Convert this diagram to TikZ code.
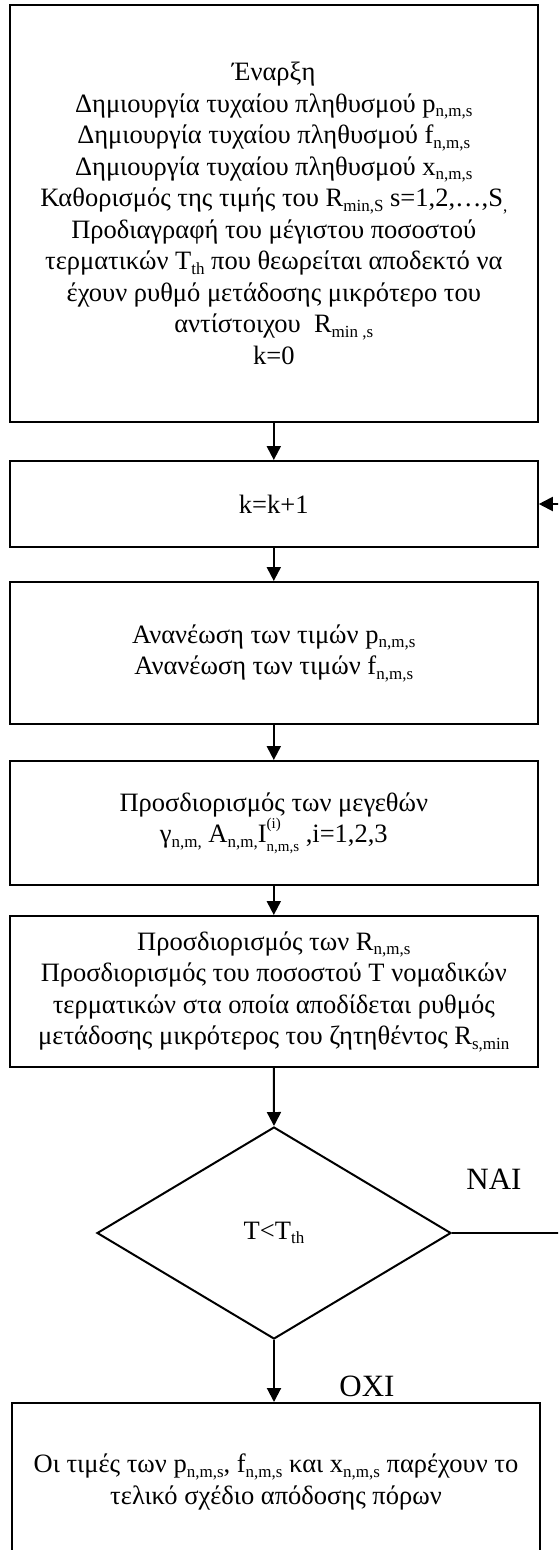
\documentclass[tikz,border=0pt]{standalone}
\usepackage{fontspec}
\setmainfont{Liberation Serif}
\usetikzlibrary{arrows.meta,shapes.geometric}

% lowered, reduced-size text for indices
\newcommand\sbx[1]{\raisebox{-0.17em}{\fontsize{17}{17}\selectfont #1}}
\newcommand\supsub[2]{\rlap{\raisebox{0.55em}{\fontsize{15}{15}\selectfont #1}}\raisebox{-0.32em}{\fontsize{15}{15}\selectfont #2}}

\tikzset{
  every node/.style={font=\fontsize{26.5}{31.5}\selectfont},
  procbox/.style={draw, line width=2pt, rectangle, inner sep=0pt,
    align=center, minimum width=528pt},
  decbox/.style={draw, line width=2pt, diamond, inner sep=0pt,
    minimum width=354pt, minimum height=212pt},
  flow/.style={line width=2pt, -{Triangle[length=14pt,width=14pt]}},
  answer/.style={anchor=base, font=\fontsize{31}{31}\selectfont}
}

\begin{document}
\begin{tikzpicture}[x=1pt,y=-1pt]
\useasboundingbox (0,0) rectangle (558,1550);
\clip (0,0) rectangle (558,1550);

\node[procbox, minimum height=417pt] (start) at (273.8,213.5) {%
  Έναρξη\\
  Δημιουργία τυχαίου πληθυσμού p\sbx{n,m,s}\\
  Δημιουργία τυχαίου πληθυσμού f\sbx{n,m,s}\\
  Δημιουργία τυχαίου πληθυσμού x\sbx{n,m,s}\\
  Καθορισμός της τιμής του R\sbx{min,S} s=1,2,…,S\sbx{,}\\
  Προδιαγραφή του μέγιστου ποσοστού\\
  τερματικών T\sbx{th} που θεωρείται αποδεκτό να\\
  έχουν ρυθμό μετάδοσης μικρότερο του\\
  αντίστοιχου\ \ R\sbx{min ,s}\\
  k=0};

\node[procbox, minimum height=86pt] (incr) at (273.8,504) {k=k+1};

\node[procbox, minimum height=142pt] (update) at (273.8,653) {%
  Ανανέωση των τιμών p\sbx{n,m,s}\\
  Ανανέωση των τιμών f\sbx{n,m,s}};

\node[procbox, minimum height=124pt] (sizes) at (273.8,823) {%
  Προσδιορισμός των μεγεθών\\
  γ\sbx{n,m,} A\sbx{n,m,}I\supsub{(i)}{n,m,s} ,i=1,2,3};

\node[procbox, minimum height=151pt] (rates) at (273.8,991.5) {%
  Προσδιορισμός των R\sbx{n,m,s}\\
  Προσδιορισμός του ποσοστού T νομαδικών\\
  τερματικών στα οποία αποδίδεται ρυθμός\\
  μετάδοσης μικρότερος του ζητηθέντος R\sbx{s,min}};

\node[decbox] (test) at (274,1233) {T<T\sbx{th}};

\node[procbox, minimum height=158pt] (final) at (276,1482) {%
  Οι τιμές των p\sbx{n,m,s}, f\sbx{n,m,s} και x\sbx{n,m,s} παρέχουν το\\
  τελικό σχέδιο απόδοσης πόρων};

\node[answer] (yes) at (494,1189) {ΝΑΙ};
\node[answer] (no) at (367,1396) {ΟΧΙ};

\coordinate (loopout) at (572,1233);

\draw[flow] (start) -- (incr);
\draw[flow] (incr) -- (update);
\draw[flow] (update) -- (sizes);
\draw[flow] (sizes) -- (rates);
\draw[flow] (rates.south) -- (test.north);
\draw[flow] (test.south) -- (test.south |- final.north);
\draw[flow] (test.east) -- (loopout) |- (incr.east);
\end{tikzpicture}
\end{document}
